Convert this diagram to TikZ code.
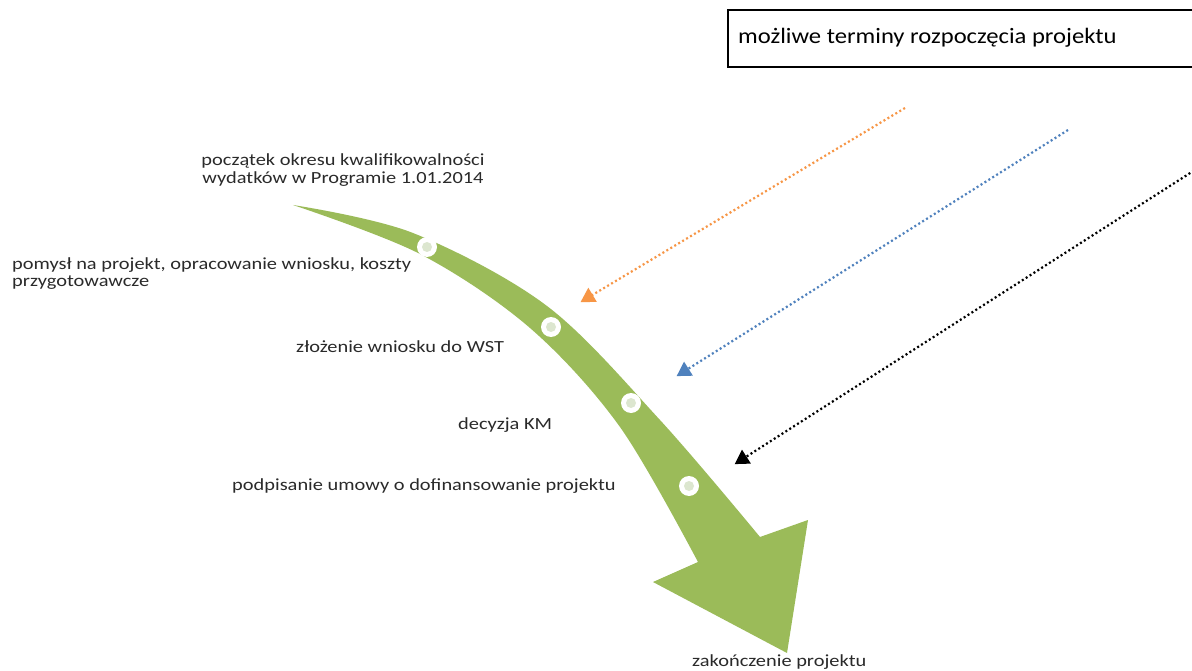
\documentclass[tikz,border=0pt]{standalone}
\usepackage{fontspec}
\setmainfont{Carlito}
\newfontfamily\lblfont[FakeStretch=1.2]{Carlito}
\newfontfamily\boxfont[FakeStretch=1.12]{Carlito}
\usetikzlibrary{arrows.meta}
\definecolor{arrowgreen}{HTML}{9BBB59}
\definecolor{dotgreen}{HTML}{DCE6CF}
\definecolor{offorange}{HTML}{F79646}
\definecolor{offblue}{HTML}{4F81BD}
\definecolor{labelgray}{HTML}{2A2A2A}
\tikzset{
  lbl/.style={inner sep=0pt, text=labelgray, font=\lblfont\fontsize{17}{17.5}\selectfont},
  stage/.style={circle, fill=white, minimum size=20pt, inner sep=0pt},
  stagedot/.style={circle, fill=dotgreen, minimum size=10pt, inner sep=0pt},
  dotarrow/.style={line width=2.2pt, dash pattern=on 2pt off 2.6pt,
    -{Triangle[length=14pt,width=16pt]}, shorten >=-4pt},
}
\begin{document}
\begin{tikzpicture}[x=1pt,y=-1pt]
\useasboundingbox (0,0) rectangle (1192,671);
\clip (0,0) rectangle (1192,671);
\fill[white] (0,0) rectangle (1192,671);

% top box
\draw[line width=1.3pt] (728,10) rectangle (1210,67);
\node[anchor=west, inner sep=0pt, font=\boxfont\fontsize{22}{24}\selectfont] (box) at (738,38) {możliwe terminy rozpoczęcia projektu};

% green curved arrow
\fill[arrowgreen]
  plot[smooth, tension=0.55] coordinates {(293,205) (413,233) (547,306) (660,420) (760,537)}
  -- (808,520) -- (787,653) -- (653,582) -- (698,562)
  -- plot[smooth, tension=0.55] coordinates {(698,562) (620,427) (530,328) (420,254) (293,205)}
  -- cycle;

% stages
\foreach \n/\p in {c1/{(427,247)}, c2/{(551,327)}, c3/{(631,403)}, c4/{(689,486)}}{
  \node[stage] (\n) at \p {};
  \node[stagedot] at \p {};
}

% labels
\node[lbl, align=center] (l0) at (343,170) {początek okresu kwalifikowalności\\wydatków w Programie 1.01.2014};
\node[lbl, align=left, anchor=north west] (l1) at (12,257) {pomysł na projekt, opracowanie wniosku, koszty\\przygotowawcze};
\node[lbl, anchor=west] (l2) at (296,347) {złożenie wniosku do WST};
\node[lbl, anchor=west] (l3) at (458,425) {decyzja KM};
\node[lbl, anchor=west] (l4) at (232,486) {podpisanie umowy o dofinansowanie projektu};
\node[lbl, anchor=west] (l5) at (692,662) {zakończenie projektu};

% dotted arrows
\coordinate (o1) at (905,108); \coordinate (o2) at (584,300);
\coordinate (b1) at (1068,130); \coordinate (b2) at (680,374);
\coordinate (k1) at (1198,168); \coordinate (k2) at (738,462);
\draw[dotarrow, offorange] (o1) -- (o2);
\draw[dotarrow, offblue] (b1) -- (b2);
\draw[dotarrow, black] (k1) -- (k2);
\end{tikzpicture}
\end{document}
